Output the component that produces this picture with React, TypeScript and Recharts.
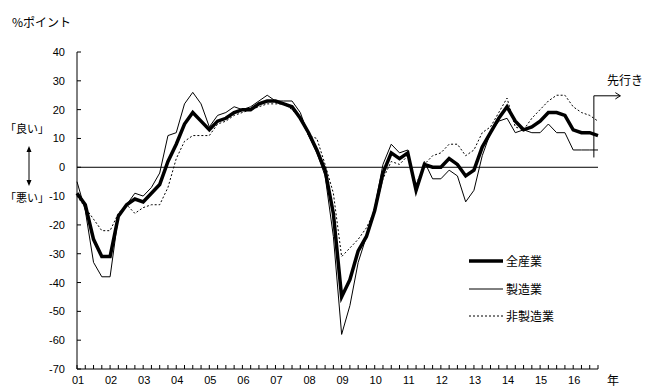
import React from 'react';
import { LineChart, Line, XAxis, YAxis, ReferenceLine } from 'recharts';

// Year labels on the x axis (one per year, first quarter)
const yearLabels = ['01', '02', '03', '04', '05', '06', '07', '08', '09', '10', '11', '12', '13', '14', '15', '16'];

// Quarterly DI values (%ポイント), 2001Q1 .. 2016Q4 (last = 先行き)
const allIndustries = [
  -9, -13, -25, -31, -31, -17, -13, -11, -12, -9, -6, 2, 8, 15, 19, 16,
  13, 16, 17, 19, 20, 20, 22, 23, 23, 22, 21, 17, 12, 6, -1, -16,
  -45, -39, -29, -24, -15, -2, 5, 3, 5, -8, 1, 0, 0, 3, 1, -3,
  -1, 7, 12, 17, 21, 16, 13, 14, 16, 19, 19, 18, 13, 12, 12, 11,
];
const manufacturing = [
  -5, -15, -33, -38, -38, -17, -13, -9, -10, -7, -2, 11, 12, 22, 26, 22,
  14, 18, 19, 21, 20, 21, 23, 25, 23, 23, 23, 19, 11, 5, -3, -24,
  -58, -48, -33, -24, -14, 1, 8, 5, 6, -9, 2, -4, -4, -1, -3, -12,
  -8, 4, 12, 16, 17, 12, 13, 12, 12, 15, 12, 12, 6, 6, 6, 6,
];
const nonManufacturing = [
  -10, -14, -18, -22, -22, -16, -13, -16, -14, -13, -13, -7, 3, 9, 11, 11,
  11, 15, 16, 18, 19, 20, 21, 22, 22, 22, 20, 17, 11, 10, 1, -9,
  -31, -28, -25, -21, -15, -4, 2, 1, 4, -6, 1, 4, 5, 8, 8, 4,
  6, 12, 14, 19, 24, 14, 13, 17, 20, 23, 25, 25, 21, 19, 18, 16,
];

const yTicks = [-70, -60, -50, -40, -30, -20, -10, 0, 10, 20, 30, 40];

const seriesNames = { all: '全産業', mfg: '製造業', non: '非製造業' };

const data = allIndustries.map((v, i) => ({
  q: i,
  all: v,
  mfg: manufacturing[i],
  non: nonManufacturing[i],
}));
const xTicks = data.map((d) => d.q);
const lastQ = xTicks[xTicks.length - 1];

const NUM_FONT = '"Liberation Sans", Arial, sans-serif';
const JP_FONT = '"Noto Sans CJK JP", "Noto Sans", sans-serif';

const XTick = (props: any) => {
  const { x, y, payload } = props;
  const i = payload.value as number;
  const label = i % 4 === 0 ? yearLabels[i / 4] : '';
  return (
    <g>
      <line x1={x} x2={x} y1={y} y2={y - 4} stroke="#000" strokeWidth={1} />
      {label ? (
        <text x={x + 1} y={y + 15} textAnchor="middle" fontSize={11} fontFamily={NUM_FONT} fill="#000">
          {label}
        </text>
      ) : null}
    </g>
  );
};

const YTick = (props: any) => {
  const { x, y, payload } = props;
  return (
    <g>
      <line x1={x} x2={x + 4} y1={y} y2={y} stroke="#000" strokeWidth={1} />
      <text x={x - 12} y={y + 4} textAnchor="end" fontSize={11} fontFamily={NUM_FONT} fill="#000">
        {payload.value}
      </text>
    </g>
  );
};

const textStyle: React.CSSProperties = {
  position: 'absolute',
  fontFamily: JP_FONT,
  fontSize: 12,
  lineHeight: '14px',
  color: '#000',
  whiteSpace: 'nowrap',
};

export default function App() {
  return (
    <div style={{ position: 'absolute', left: 0, top: 0, width: 649, height: 392, background: '#fff' }}>
      <LineChart width={649} height={392} data={data} margin={{ top: 52, right: 51, bottom: 0, left: 0 }}>
        <XAxis
          dataKey="q"
          type="number"
          domain={[0, lastQ]}
          ticks={xTicks}
          interval={0}
          tickSize={0}
          tickMargin={0}
          tick={<XTick />}
          height={23}
          axisLine={{ stroke: '#000', strokeWidth: 1 }}
          allowDecimals={false}
        />
        <YAxis
          type="number"
          domain={[-70, 40]}
          ticks={yTicks}
          interval={0}
          tickSize={0}
          tickMargin={0}
          tick={<YTick />}
          width={77}
          axisLine={{ stroke: '#000', strokeWidth: 1 }}
        />
        <ReferenceLine y={0} stroke="#000" strokeWidth={1} />
        <Line dataKey="non" name={seriesNames.non} type="linear" stroke="#000" strokeWidth={1} strokeDasharray="2 2" dot={false} isAnimationActive={false} />
        <Line dataKey="mfg" name={seriesNames.mfg} type="linear" stroke="#000" strokeWidth={1} dot={false} isAnimationActive={false} />
        <Line dataKey="all" name={seriesNames.all} type="linear" stroke="#000" strokeWidth={3.5} dot={false} isAnimationActive={false} />
        <ReferenceLine segment={[{ x: lastQ - 0.5, y: 3.4 }, { x: lastQ - 0.5, y: 24.8 }]} stroke="#000" strokeWidth={1} ifOverflow="visible" />
        <ReferenceLine segment={[{ x: lastQ - 0.5, y: 24.8 }, { x: lastQ + 2.7, y: 24.8 }]} stroke="#000" strokeWidth={1} ifOverflow="visible" />
        <ReferenceLine segment={[{ x: lastQ + 2.1, y: 25.9 }, { x: lastQ + 2.7, y: 24.8 }]} stroke="#000" strokeWidth={1} ifOverflow="visible" />
        <ReferenceLine segment={[{ x: lastQ + 2.1, y: 23.7 }, { x: lastQ + 2.7, y: 24.8 }]} stroke="#000" strokeWidth={1} ifOverflow="visible" />
      </LineChart>

      <div style={{ ...textStyle, left: 12, top: 15 }}>%ポイント</div>
      <div style={{ ...textStyle, left: 5, top: 121, fontSize: 11 }}>「良い」</div>
      <div style={{ ...textStyle, left: 5, top: 190, fontSize: 11 }}>「悪い」</div>
      <svg style={{ position: 'absolute', left: 22, top: 143, overflow: 'visible' }} width={14} height={46}>
        <line x1={7} x2={7} y1={5} y2={41} stroke="#000" strokeWidth={1} />
        <polygon points="7,3 4.5,9 9.5,9" fill="#000" />
        <polygon points="7,43 4.5,37 9.5,37" fill="#000" />
      </svg>
      <div style={{ ...textStyle, left: 607, top: 73 }}>先行き</div>
      <div style={{ ...textStyle, left: 607, top: 373 }}>年</div>

      <div style={{ position: 'absolute', left: 468, top: 250 }}>
        {[
          { key: 'all', w: 3.5, dash: undefined },
          { key: 'mfg', w: 1, dash: undefined },
          { key: 'non', w: 1, dash: '2 2' },
        ].map((s, idx) => (
          <div key={s.key} style={{ position: 'absolute', left: 0, top: idx * 27.5, height: 22, width: 120 }}>
            <svg width={36} height={22} style={{ position: 'absolute', left: 0, top: 0 }}>
              <line x1={1} x2={35} y1={11} y2={11} stroke="#000" strokeWidth={s.w} strokeDasharray={s.dash} />
            </svg>
            <div style={{ ...textStyle, left: 38, top: 4 }}>{(seriesNames as any)[s.key]}</div>
          </div>
        ))}
      </div>
    </div>
  );
}
